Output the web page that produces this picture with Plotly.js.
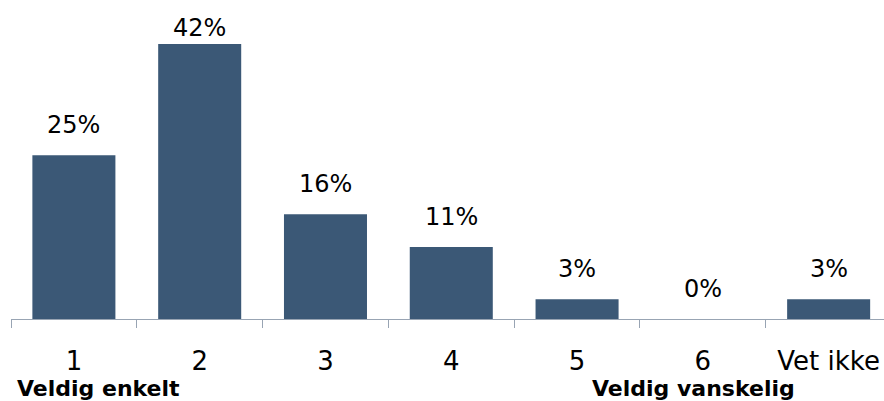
<!DOCTYPE html>
<html>
<head>
<meta charset="utf-8">
<script src="https://cdn.plot.ly/plotly-3.0.1.min.js"></script>
<style>html,body{margin:0;padding:0;background:#fff;}#chart{width:884px;height:401px;}</style>
</head>
<body>
<div id="chart"></div>
<script>
const categories = ["1", "2", "3", "4", "5", "6", "Vet ikke"];
const values = [25, 42, 16, 11, 3, 0, 3];
const endLabels = ["Veldig enkelt", "Veldig vanskelig"];
const endLabelCats = [-0.468, 4.10];

const barColor = "#3b5876";
const pxPerUnit = 6.55;
const plotH = 319;

const labelAnn = values.map((v, i) => {
  const top = plotH - v * pxPerUnit;
  const shift = Math.min(14, top - 44);
  return {
    x: i, y: v, xref: "x", yref: "y",
    text: v + "%", showarrow: false,
    yanchor: "bottom", xanchor: "center",
    yshift: shift,
    font: {family: "DejaVu Sans", size: 24, color: "#000"}
  };
});

const endAnn = endLabels.map((t, i) => ({
  x: endLabelCats[i], y: 0, xref: "x", yref: "paper",
  text: "<b>" + t + "</b>", showarrow: false,
  xanchor: "left", yanchor: "top", yshift: -55,
  font: {family: "DejaVu Sans", size: 22, color: "#000"}
}));

const trace = {
  type: "bar",
  x: categories.map((c, i) => i),
  y: values,
  marker: {color: barColor},
  hoverinfo: "skip"
};

const layout = {
  width: 884, height: 401,
  margin: {l: 11, r: 0, t: 0, b: 82},
  paper_bgcolor: "#fff", plot_bgcolor: "#fff",
  bargap: 0.34,
  showlegend: false,
  xaxis: {
    type: "linear",
    range: [-0.5, 6.44],
    tickmode: "array",
    tickvals: categories.map((c, i) => i),
    ticktext: categories,
    showgrid: false, zeroline: false,
    showline: true, linecolor: "#98a4b3", linewidth: 1,
    ticks: "",
    tickfont: {family: "DejaVu Sans", size: 26, color: "#000"},
    ticklabelstandoff: 19
  },
  xaxis2: {
    overlaying: "x", matches: "x", anchor: "y",
    tickmode: "array",
    tickvals: categories.map((c, i) => i + 0.5).concat([-0.5]),
    showticklabels: false,
    ticks: "outside", ticklen: 8, tickcolor: "#98a4b3", tickwidth: 1,
    showgrid: false, zeroline: false, showline: false
  },
  yaxis: {range: [0, plotH / pxPerUnit], visible: false, fixedrange: true},
  annotations: labelAnn.concat(endAnn)
};

const dummy = {type: "scatter", x: [0], y: [0], xaxis: "x2", mode: "none", hoverinfo: "skip"};

Plotly.newPlot("chart", [trace, dummy], layout, {displayModeBar: false, staticPlot: true});
</script>
</body>
</html>
